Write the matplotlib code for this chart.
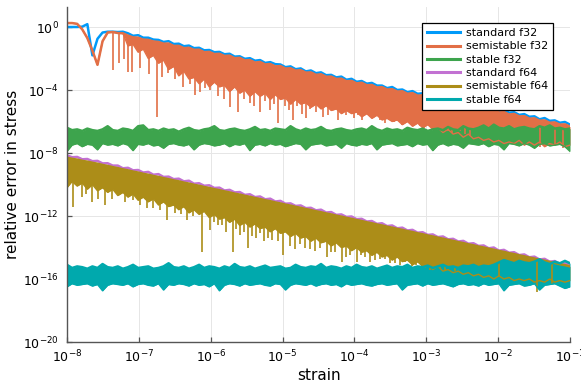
import numpy as np
import matplotlib
matplotlib.use("Agg")
import matplotlib.pyplot as plt
from matplotlib.lines import Line2D
from matplotlib.ticker import FixedLocator, LogFormatterSciNotation, NullLocator

# ---------------- data (log10 of relative error) ----------------
strain = np.logspace(-8, -1, 100)

labels = ["standard f32", "semistable f32", "stable f32",
          "standard f64", "semistable f64", "stable f64"]
colors = ["#009AF9", "#E26F46", "#3DA44D", "#C271D2", "#AC8D18", "#00A9AD"]

std32_hi = [0.0, 0.0, 0.0, 0.02, 0.18, -1.8, -0.75, -0.35, -0.3, -0.3,
            -0.32, -0.3, -0.4, -0.56, -0.52, -0.68, -0.68, -0.8, -0.82, -0.95,
            -0.9, -1.08, -1.06, -1.22, -1.18, -1.34, -1.32, -1.48, -1.46, -1.6,
            -1.58, -1.73, -1.7, -1.88, -1.86, -2.02, -1.98, -2.14, -2.1, -2.28,
            -2.23, -2.36, -2.38, -2.55, -2.5, -2.68, -2.63, -2.82, -2.76, -2.93,
            -2.88, -3.06, -3.04, -3.2, -3.15, -3.35, -3.29, -3.48, -3.43, -3.6,
            -3.55, -3.72, -3.72, -3.88, -3.81, -4.0, -3.97, -4.14, -4.07, -4.24,
            -4.21, -4.38, -4.36, -4.54, -4.48, -4.66, -4.59, -4.76, -4.73, -4.9,
            -4.87, -5.03, -5.01, -5.2, -5.15, -5.34, -5.25, -5.44, -5.41, -5.58,
            -5.53, -5.7, -5.67, -5.86, -5.78, -5.96, -5.93, -6.08, -6.03, -6.2]

semi32_hi = [0.25, 0.25, 0.2, -0.15, -0.7, -1.5, -2.4, -0.9, -0.35, -0.32,
             -0.38, -0.4, -0.55, -0.66, -0.68, -0.8, -0.82, -0.92, -0.95, -1.06,
             -1.05, -1.2, -1.2, -1.34, -1.32, -1.45, -1.44, -1.6, -1.58, -1.72,
             -1.7, -1.84, -1.82, -1.98, -1.96, -2.12, -2.1, -2.26, -2.22, -2.38,
             -2.35, -2.5, -2.48, -2.64, -2.62, -2.77, -2.74, -2.9, -2.88, -3.04,
             -3.0, -3.16, -3.15, -3.3, -3.28, -3.45, -3.42, -3.58, -3.54, -3.7,
             -3.68, -3.84, -3.82, -3.97, -3.95, -4.1, -4.08, -4.24, -4.2, -4.36,
             -4.34, -4.5, -4.48, -4.63, -4.6, -4.76, -4.74, -4.9, -4.86, -5.02,
             -5.0, -5.15, -5.14, -5.3, -5.27, -5.43, -5.4, -5.56, -5.52, -5.68,
             -5.66, -5.82, -5.8, -5.95, -5.93, -6.08, -6.06, -6.2, -6.18, -6.33]
semi32_lo = [0.25, 0.25, 0.2, -0.15, -0.7, -1.5, -2.4, -0.9, -0.35, -0.32,
             -0.38, -0.4, -1.2, -1.1, -1.6, -1.4, -2.0, -1.8, -2.3, -2.1,
             -2.7, -2.5, -3.1, -2.8, -3.3, -3.2, -3.6, -3.3, -3.8, -3.5,
             -3.8, -3.7, -4.1, -3.8, -4.2, -4.0, -4.4, -4.1, -4.4, -4.2,
             -4.6, -4.3, -4.6, -4.5, -4.9, -4.6, -4.9, -4.8, -5.1, -4.9,
             -5.2, -5.0, -5.3, -5.2, -5.5, -5.3, -5.5, -5.4, -5.7, -5.5,
             -5.8, -5.6, -5.9, -5.8, -6.0, -5.9, -6.2, -6.0, -6.3, -6.1,
             -6.4, -6.2, -6.5, -6.4, -6.7, -6.5, -6.8, -6.7, -7.0, -6.8,
             -7.1, -7.0, -7.2, -7.1, -7.3, -7.2, -7.4, -7.3, -7.4, -7.2,
             -7.5, -7.3, -7.5, -7.3, -7.6, -7.4, -7.5, -7.3, -7.6, -7.5]
semi32_spike_x = [-7.36, -7.28, -7.21, -7.15, -7.10, -6.98, -6.86, -6.75, -6.68, -6.59,
                  -6.50, -6.29, -6.15, -6.01, -5.90, -5.73, -5.62, -5.54, -5.45, -5.31,
                  -5.24, -5.18, -5.06, -4.97, -4.85, -4.73, -4.62, -4.44, -4.30, -4.17,
                  -4.06, -3.95, -3.84, -3.64, -3.51, -3.39, -3.30, -3.20, -3.09, -2.98,
                  -2.81, -2.70, -2.60, -2.46, -1.42, -1.21, -1.10,
                  -6.39, -6.22, -6.08, -5.82, -5.40, -5.12, -4.91, -4.80, -4.67, -4.54,
                  -4.37, -4.23, -4.12, -4.01, -3.90, -3.76, -3.57, -3.45, -3.34, -3.14,
                  -3.03, -2.89, -2.75, -2.64, -2.53, -2.39]
semi32_spike_y = [-2.7, -2.3, -2.0, -2.85, -2.85, -2.6, -3.0, -5.7, -3.2, -2.9,
                  -3.3, -3.6, -4.1, -4.0, -4.4, -5.1, -5.4, -4.6, -4.8, -5.4,
                  -4.7, -5.3, -6.1, -5.0, -5.9, -5.5, -5.2, -5.7, -5.3, -5.4,
                  -5.0, -5.6, -5.4, -5.9, -5.6, -5.8, -6.0, -5.9, -6.3, -6.1,
                  -6.4, -6.6, -6.5, -6.8, -7.6, -7.5, -7.7,
                  -3.8, -4.3, -3.9, -4.6, -5.0, -4.9, -5.3, -5.0, -5.8, -5.4,
                  -5.6, -5.9, -5.6, -5.8, -5.9, -5.7, -6.1, -6.0, -6.2, -6.1,
                  -6.4, -6.5, -6.3, -6.7, -6.6, -6.9]

stab32_hi = [-6.4, -6.55, -6.5, -6.6, -6.45, -6.55, -6.6, -6.5, -6.3, -6.55,
             -6.6, -6.45, -6.5, -6.6, -6.3, -6.25, -6.55, -6.5, -6.6, -6.45,
             -6.55, -6.5, -6.65, -6.5, -6.4, -6.55, -6.6, -6.5, -6.45, -6.3,
             -6.55, -6.6, -6.5, -6.45, -6.55, -6.6, -6.5, -6.35, -6.55, -6.5,
             -6.6, -6.45, -6.5, -6.55, -6.3, -6.5, -6.6, -6.45, -6.55, -6.5,
             -6.35, -6.55, -6.6, -6.5, -6.45, -6.55, -6.6, -6.5, -6.45, -6.55,
             -6.3, -6.5, -6.6, -6.45, -6.55, -6.5, -6.6, -6.4, -6.5, -6.55,
             -6.45, -6.6, -6.5, -6.45, -6.55, -6.35, -6.5, -6.55, -6.3, -6.45,
             -6.5, -6.4, -6.25, -6.45, -6.2, -6.4, -6.45, -6.3, -6.5, -6.4,
             -6.35, -6.45, -6.5, -6.3, -6.4, -6.25, -6.45, -6.4, -6.5, -6.45]
stab32_lo = [-7.9, -7.5, -7.4, -7.6, -7.45, -7.5, -7.8, -7.4, -7.5, -7.45,
             -7.55, -7.4, -7.5, -7.85, -7.45, -7.5, -7.4, -7.55, -7.5, -7.7,
             -7.45, -7.4, -7.5, -7.55, -7.45, -7.8, -7.5, -7.4, -7.45, -7.55,
             -7.5, -7.4, -7.6, -7.45, -7.5, -7.4, -7.85, -7.5, -7.45, -7.55,
             -7.4, -7.5, -7.45, -7.6, -7.5, -7.4, -7.45, -7.8, -7.5, -7.45,
             -7.4, -7.55, -7.5, -7.45, -7.7, -7.4, -7.5, -7.55, -7.45, -7.5,
             -7.4, -7.8, -7.5, -7.45, -7.4, -7.55, -7.5, -7.45, -7.6, -7.4,
             -7.5, -7.45, -7.85, -7.5, -7.4, -7.55, -7.45, -7.5, -7.7, -7.4,
             -7.45, -7.5, -7.4, -7.6, -7.45, -7.5, -7.8, -7.4, -7.45, -7.55,
             -7.4, -7.5, -7.7, -7.45, -7.4, -7.55, -7.5, -7.45, -7.6, -7.9]

std64_hi = [-8.15, -8.27, -8.25, -8.4, -8.38, -8.52, -8.5, -8.66, -8.65, -8.8,
            -8.8, -8.97, -8.94, -9.1, -9.08, -9.24, -9.2, -9.38, -9.34, -9.52,
            -9.5, -9.66, -9.63, -9.8, -9.76, -9.95, -9.92, -10.08, -10.05, -10.22,
            -10.2, -10.38, -10.34, -10.5, -10.48, -10.66, -10.62, -10.8, -10.76, -10.94,
            -10.9, -11.08, -11.04, -11.22, -11.2, -11.36, -11.33, -11.5, -11.48, -11.64,
            -11.6, -11.78, -11.75, -11.93, -11.9, -12.06, -12.03, -12.2, -12.18, -12.35,
            -12.32, -12.5, -12.46, -12.64, -12.6, -12.78, -12.74, -12.92, -12.88, -13.06,
            -13.03, -13.2, -13.17, -13.34, -13.3, -13.48, -13.45, -13.62, -13.58, -13.76,
            -13.73, -13.9, -13.87, -14.05, -14.0, -14.2, -14.15, -14.33, -14.3, -14.48,
            -14.44, -14.62, -14.58, -14.76, -14.72, -14.9, -14.86, -15.04, -15.0, -15.15]

semi64_hi = [-8.3, -8.37, -8.42, -8.5, -8.55, -8.62, -8.68, -8.76, -8.82, -8.9,
             -8.96, -9.04, -9.1, -9.18, -9.24, -9.32, -9.38, -9.46, -9.52, -9.6,
             -9.66, -9.74, -9.8, -9.88, -9.94, -10.02, -10.08, -10.16, -10.22, -10.3,
             -10.36, -10.44, -10.5, -10.58, -10.64, -10.72, -10.78, -10.86, -10.92, -11.0,
             -11.06, -11.14, -11.2, -11.28, -11.34, -11.42, -11.48, -11.56, -11.62, -11.7,
             -11.76, -11.84, -11.9, -11.98, -12.04, -12.12, -12.18, -12.26, -12.32, -12.4,
             -12.46, -12.54, -12.6, -12.68, -12.74, -12.82, -12.88, -12.96, -13.02, -13.1,
             -13.16, -13.24, -13.3, -13.38, -13.44, -13.52, -13.58, -13.66, -13.72, -13.8,
             -13.86, -13.94, -14.0, -14.08, -14.14, -14.22, -14.28, -14.36, -14.42, -14.5,
             -14.56, -14.64, -14.7, -14.78, -14.84, -14.92, -14.98, -15.06, -15.12, -15.2]
semi64_lo = [-10.2, -9.8, -10.1, -9.9, -10.3, -10.0, -10.4, -10.2, -10.5, -10.3,
             -10.7, -10.5, -10.8, -10.6, -11.0, -10.8, -11.1, -10.9, -11.3, -11.1,
             -11.4, -11.3, -11.6, -11.4, -11.8, -11.6, -11.9, -11.7, -12.1, -11.9,
             -12.2, -12.1, -12.4, -12.2, -12.6, -12.4, -12.7, -12.5, -12.8, -12.7,
             -13.0, -12.8, -13.1, -13.0, -13.3, -13.1, -13.4, -13.3, -13.6, -13.4,
             -13.7, -13.6, -13.9, -13.7, -14.0, -13.9, -14.2, -14.0, -14.3, -14.2,
             -14.5, -14.3, -14.6, -14.5, -14.8, -14.6, -14.9, -14.8, -15.1, -14.9,
             -15.2, -15.1, -15.4, -15.2, -15.5, -15.4, -15.6, -15.5, -15.7, -15.6,
             -15.8, -15.7, -15.9, -15.8, -16.0, -15.8, -16.0, -15.9, -16.1, -16.0,
             -16.1, -16.0, -16.2, -16.1, -16.2, -16.0, -16.2, -16.1, -16.2, -16.1]
semi64_spike_x = [-7.92, -7.79, -7.65, -7.47, -7.29, -7.19, -7.08, -6.89, -6.71, -6.61,
                  -6.50, -6.33, -6.12, -6.05, -6.01, -5.90, -5.79, -5.69, -5.59, -5.48,
                  -5.37, -5.26, -5.15, -4.99, -4.90, -4.83, -4.69, -4.55, -4.38, -4.27,
                  -4.17, -4.06, -3.96, -3.85, -3.71, -3.57, -3.44, -3.30, -3.20, -3.09,
                  -2.95, -2.81, -1.99, -1.46, -1.25,
                  -7.74, -7.57, -7.37, -6.98, -6.80, -6.41, -6.25, -5.95, -5.84, -5.65,
                  -5.54, -5.43, -5.31, -5.20, -5.06, -4.76, -4.62, -4.48, -4.33, -4.12,
                  -3.91, -3.78, -3.64, -3.51, -3.37, -3.14, -3.02, -2.88, -2.74, -2.60]
semi64_spike_y = [-11.4, -10.8, -11.1, -11.3, -10.6, -11.1, -11.0, -11.5, -11.6, -12.25,
                  -11.8, -12.25, -14.3, -11.9, -12.9, -12.6, -13.0, -14.3, -13.2, -14.0,
                  -13.4, -13.6, -13.5, -14.5, -13.9, -14.1, -14.0, -14.2, -14.6, -14.3,
                  -14.9, -14.5, -14.9, -14.6, -14.8, -14.7, -15.0, -14.9, -15.2, -14.9,
                  -15.4, -15.3, -15.9, -16.8, -16.3,
                  -10.6, -10.9, -10.9, -11.3, -11.5, -11.9, -12.0, -12.4, -12.6, -12.8,
                  -13.0, -13.3, -13.1, -13.4, -13.6, -13.8, -14.1, -14.0, -14.3, -14.6,
                  -14.5, -14.9, -14.7, -15.0, -15.1, -15.1, -15.3, -15.2, -15.5, -15.5]

stab64_hi = [-15.1, -15.3, -15.2, -15.25, -15.35, -15.2, -15.3, -15.05, -15.25, -15.3,
             -15.2, -15.35, -15.25, -15.1, -15.3, -15.25, -15.2, -15.35, -15.3, -15.2,
             -15.0, -15.25, -15.3, -15.2, -15.35, -15.25, -15.1, -15.3, -15.2, -15.25,
             -15.35, -15.2, -15.3, -15.05, -15.25, -15.3, -15.2, -15.35, -15.25, -15.15,
             -15.3, -15.25, -15.2, -15.35, -15.3, -15.1, -15.25, -15.3, -15.2, -15.25,
             -15.05, -15.3, -15.2, -15.25, -15.35, -15.2, -15.3, -15.1, -15.25, -15.3,
             -15.2, -15.35, -15.25, -15.15, -15.3, -15.2, -15.25, -15.1, -15.3, -15.2,
             -15.25, -15.15, -15.3, -15.2, -15.1, -15.25, -15.2, -15.3, -15.15, -15.2,
             -15.1, -15.25, -15.15, -15.2, -15.1, -14.95, -14.8, -14.9, -15.0, -14.85,
             -14.95, -15.0, -14.9, -14.75, -14.95, -15.05, -14.9, -15.0, -14.85, -15.0]
stab64_lo = [-16.5, -16.3, -16.4, -16.35, -16.3, -16.45, -16.35, -16.75, -16.4, -16.3,
             -16.35, -16.4, -16.3, -16.5, -16.35, -16.3, -16.4, -16.45, -16.3, -16.7,
             -16.35, -16.4, -16.3, -16.35, -16.45, -16.3, -16.4, -16.35, -16.5, -16.3,
             -16.75, -16.4, -16.3, -16.35, -16.45, -16.3, -16.4, -16.35, -16.3, -16.4,
             -16.45, -16.3, -16.35, -16.7, -16.4, -16.3, -16.35, -16.4, -16.3, -16.45,
             -16.35, -16.3, -16.4, -16.35, -16.5, -16.3, -16.4, -16.35, -16.3, -16.4,
             -16.45, -16.35, -16.3, -16.4, -16.35, -16.3, -16.7, -16.4, -16.35, -16.3,
             -16.45, -16.3, -16.4, -16.35, -16.3, -16.4, -16.5, -16.35, -16.3, -16.4,
             -16.35, -16.45, -16.3, -16.4, -16.35, -16.3, -16.75, -16.4, -16.35, -16.3,
             -16.45, -16.4, -16.3, -16.7, -16.4, -16.35, -16.3, -16.45, -16.6, -16.5]

x_ticks = [1e-8, 1e-7, 1e-6, 1e-5, 1e-4, 1e-3, 1e-2, 1e-1]
y_ticks = [1e-20, 1e-16, 1e-12, 1e-8, 1e-4, 1e0]

# ---------------- plotting ----------------
fig = plt.figure(figsize=(5.81, 3.88), dpi=100)
ax = fig.add_axes([67 / 581, 1 - 342 / 388, 503 / 581, 335 / 388])

LW = 1.8
log_strain = np.log10(strain)


def p(v):
    return 10.0 ** np.asarray(v, dtype=float)


def band(hi, lo, color):
    ax.fill_between(strain, p(lo), p(hi), color=color, lw=0)
    ax.plot(strain, p(hi), color=color, lw=LW)
    ax.plot(strain, p(lo), color=color, lw=1.0)


def spikes(sx, sy, hi, color):
    sx = np.asarray(sx)
    top = np.interp(sx, log_strain, np.asarray(hi))
    ax.vlines(10.0 ** sx, p(sy), 10.0 ** top, color=color, lw=1.2)


# standard f32
ax.plot(strain, p(std32_hi), color=colors[0], lw=LW)
# semistable f32
band(semi32_hi, semi32_lo, colors[1])
spikes(semi32_spike_x, semi32_spike_y, semi32_hi, colors[1])
# stable f32
band(stab32_hi, stab32_lo, colors[2])
# standard f64
ax.plot(strain, p(std64_hi), color=colors[3], lw=LW)
# semistable f64
band(semi64_hi, semi64_lo, colors[4])
spikes(semi64_spike_x, semi64_spike_y, semi64_hi, colors[4])
# stable f64
band(stab64_hi, stab64_lo, colors[5])

ax.set_xscale("log")
ax.set_yscale("log")
ax.set_xlim(1e-8, 1e-1)
ax.set_ylim(1e-20, 10 ** 1.27)

ax.xaxis.set_major_locator(FixedLocator(x_ticks))
ax.yaxis.set_major_locator(FixedLocator(y_ticks))
ax.xaxis.set_minor_locator(NullLocator())
ax.yaxis.set_minor_locator(NullLocator())
ax.xaxis.set_major_formatter(LogFormatterSciNotation())
ax.yaxis.set_major_formatter(LogFormatterSciNotation())

ax.grid(True, color="#e6e6e6", lw=0.7)
ax.set_axisbelow(True)
for s in ["top", "right"]:
    ax.spines[s].set_visible(False)
for s in ["left", "bottom"]:
    ax.spines[s].set_color("#555555")
    ax.spines[s].set_linewidth(1.0)
ax.tick_params(direction="in", length=3.5, width=0.9, color="#555555", labelsize=9)
ax.tick_params(axis="x", pad=5)
ax.tick_params(axis="y", pad=6)

ax.set_xlabel("strain", fontsize=11, labelpad=2)
ax.set_ylabel("relative error in stress", fontsize=11, labelpad=2)

handles = [Line2D([0], [0], color=c, lw=2.2) for c in colors]
leg = ax.legend(handles, labels, loc="upper right", bbox_to_anchor=(0.966, 0.952),
                fontsize=8, frameon=True, fancybox=False, framealpha=1,
                edgecolor="black", handlelength=3.0, labelspacing=0.3,
                handletextpad=0.5, borderpad=0.45, borderaxespad=0)
leg.get_frame().set_linewidth(0.9)

fig.savefig("out.png", dpi=100)
